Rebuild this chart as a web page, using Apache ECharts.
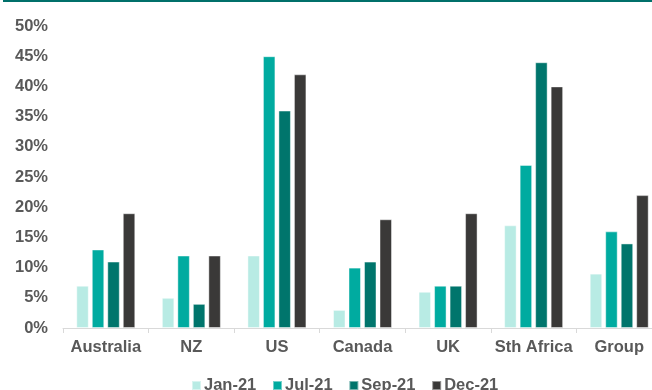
<!DOCTYPE html>
<html><head><meta charset="utf-8">
<script src="https://cdn.jsdelivr.net/npm/echarts@6/dist/echarts.min.js"></script>
<style>html,body{margin:0;padding:0;background:#fff}#c{width:652px;height:390px}</style>
</head><body><div id="c"></div>
<script>
const categories = ['Australia','NZ','US','Canada','UK','Sth Africa','Group'];
const seriesNames = ['Jan-21','Jul-21','Sep-21','Dec-21'];
const jan21 = [7, 5, 12, 3, 6, 17, 9];
const jul21 = [13, 12, 45, 10, 7, 27, 16];
const sep21 = [11, 4, 36, 11, 7, 44, 14];
const dec21 = [19, 12, 42, 18, 19, 40, 22];
const yTicks = [0,5,10,15,20,25,30,35,40,45,50];
const colors = ['#b8ebe4','#00aba0','#00756c','#3a3938'];
const dataSets = [jan21, jul21, sep21, dec21];

const chart = echarts.init(document.getElementById('c'), null, {renderer:'canvas'});
const font = {fontFamily:'Liberation Sans, Arial, sans-serif', fontWeight:'bold', fontSize:16.5, color:'#595959'};
chart.setOption({
  animation:false,
  color: colors,
  graphic:[{type:'rect', shape:{x:3,y:0,width:649,height:2}, style:{fill:'#00706a'}}],
  grid:{left:63, width:599, top:26, bottom:62, containLabel:false, outerBoundsMode:'none'},
  legend:{
    data: seriesNames, left:186, top:372, itemWidth:9, itemHeight:9, itemGap:15.7,
    icon:'rect', textStyle:Object.assign({}, font, {padding:[0,0,0,-2]})
  },
  xAxis:{
    type:'category', data:categories,
    axisLine:{lineStyle:{color:'#d9d9d9', width:1}},
    axisTick:{show:true, length:5, lineStyle:{color:'#d9d9d9'}},
    axisLabel:Object.assign({}, font, {margin:11, interval:0})
  },
  yAxis:{
    type:'value', min:0, max:50, interval:5,
    axisLine:{show:false}, axisTick:{show:false}, splitLine:{show:false},
    axisLabel:Object.assign({}, font, {margin:15, formatter:v=> yTicks.includes(v) ? v+'%' : ''})
  },
  series: dataSets.map((d,i)=>({
    name: seriesNames[i], type:'bar', data:d, barWidth:12.5, barGap:'24%',
    itemStyle:{color:colors[i], borderColor:'rgba(255,255,255,0.45)', borderWidth:1}
  }))
});
</script></body></html>
